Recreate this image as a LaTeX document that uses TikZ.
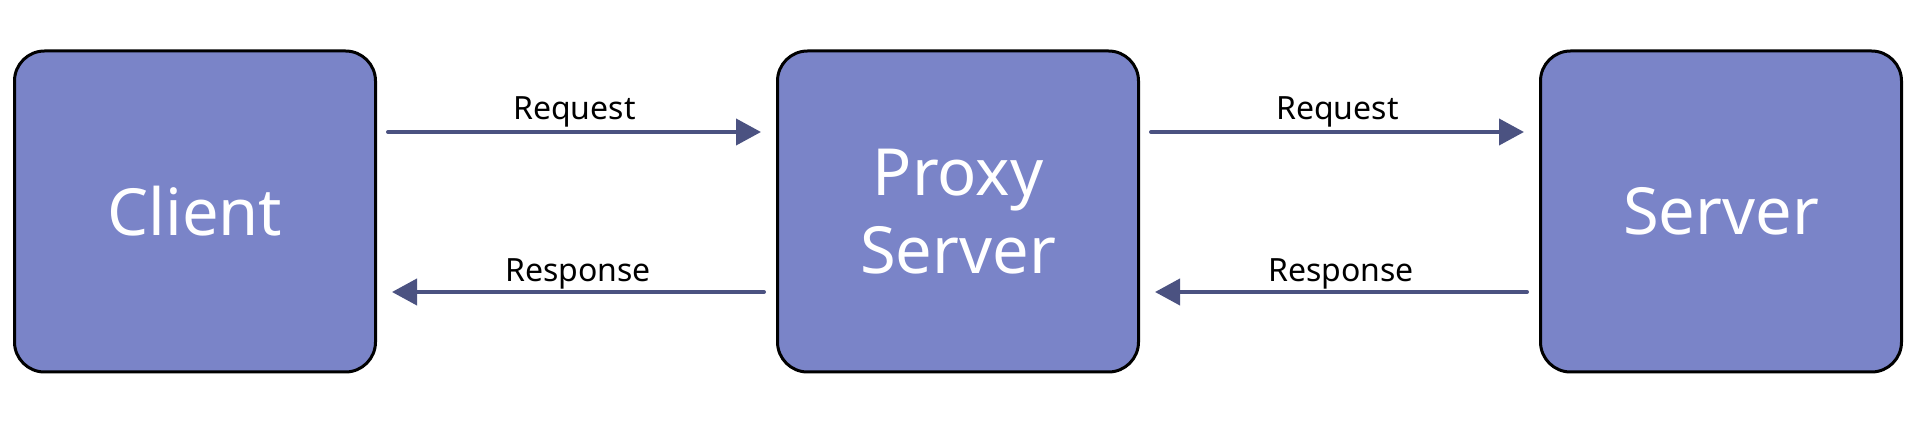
\documentclass[tikz,border=0pt]{standalone}
\usepackage{fontspec}
\setmainfont{Noto Sans}
\usetikzlibrary{positioning,arrows.meta}
\definecolor{boxfill}{HTML}{7A84C8}
\definecolor{arrowcol}{HTML}{4B5281}

\begin{document}
\begin{tikzpicture}[x=1pt, y=1pt, node distance=399pt,
  hostbox/.style={draw=black, line width=3pt, fill=boxfill, rounded corners=30pt,
    minimum width=361pt, minimum height=321pt, text=white, align=center,
    font=\fontsize{65}{78.5}\selectfont},
  msg/.style={draw=arrowcol, line width=4pt, line cap=round,
    -{Triangle[length=25pt, width=26pt]}},
  msglabel/.style={font=\fontsize{32}{36}\selectfont, inner sep=0pt, anchor=base}]
\useasboundingbox (0,0) rectangle (1917,423);
\node (client)[hostbox] at (195,211.5) {Client};
\node (proxy)[hostbox] [right=of client] {Proxy\\Server};
\node (server)[hostbox] [right=of proxy] {Server};
% requests go right, responses come back left
\draw[msg] ([shift={(11pt,79.5pt)}]client.east) -- ([shift={(-15pt,79.5pt)}]proxy.west)
  node[msglabel, midway, yshift=12pt] {Request};
\draw[msg] ([shift={(-12pt,-80.5pt)}]proxy.west) -- ([shift={(15pt,-80.5pt)}]client.east)
  node[msglabel, midway, yshift=10pt] {Response};
\draw[msg] ([shift={(11pt,79.5pt)}]proxy.east) -- ([shift={(-15pt,79.5pt)}]server.west)
  node[msglabel, midway, yshift=12pt] {Request};
\draw[msg] ([shift={(-12pt,-80.5pt)}]server.west) -- ([shift={(15pt,-80.5pt)}]proxy.east)
  node[msglabel, midway, yshift=10pt] {Response};
\end{tikzpicture}
\end{document}
